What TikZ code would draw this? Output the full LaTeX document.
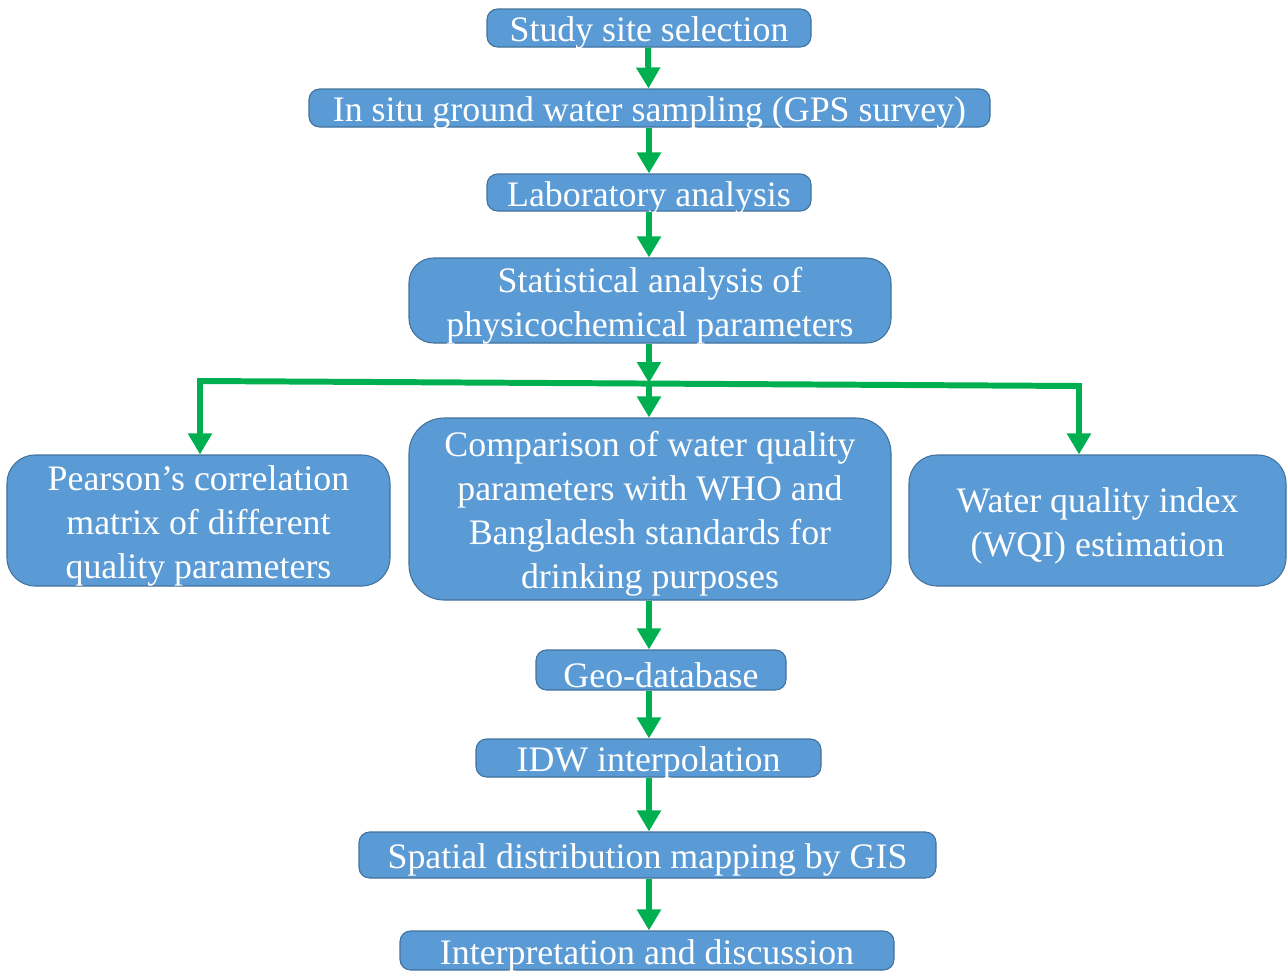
\documentclass[tikz,border=0pt]{standalone}
\usepackage{fontspec}
\setmainfont{Liberation Serif}
\usetikzlibrary{arrows.meta}
\definecolor{boxfill}{RGB}{91,155,213}
\definecolor{boxdraw}{RGB}{65,113,156}
\definecolor{arrgreen}{RGB}{0,176,80}
\tikzset{
  box/.style={draw=boxdraw, line width=0.6pt, fill=boxfill, inner sep=0pt, rounded corners=#1},
  box/.default=6pt,
  txt/.style={text=white, inner sep=0pt, align=center, font=\fontsize{20.4}{25}\selectfont},
  arr/.style={draw=arrgreen, line width=3.4pt, -{Triangle[width=0.46cm,length=0.42cm]}},
  gline/.style={draw=arrgreen, line width=3.4pt}
}
\begin{document}
\begin{tikzpicture}
\useasboundingbox (0,0) rectangle (25.74,-19.48);
\node[box, minimum width=6.48cm, minimum height=0.76cm] (b1) at (12.98,-0.56) {};
\node[box, minimum width=13.62cm, minimum height=0.76cm] (b2) at (12.99,-2.16) {};
\node[box, minimum width=6.48cm, minimum height=0.74cm] (b3) at (12.98,-3.85) {};
\node[box=14pt, minimum width=9.64cm, minimum height=1.70cm] (b4) at (13.0,-6.01) {};
\node[box=16pt, minimum width=7.66cm, minimum height=2.62cm] (b5) at (3.97,-10.41) {};
\node[box=20pt, minimum width=9.64cm, minimum height=3.64cm] (b6) at (13.0,-10.18) {};
\node[box=16pt, minimum width=7.54cm, minimum height=2.62cm] (b7) at (21.95,-10.41) {};
\node[box, minimum width=5.0cm, minimum height=0.8cm] (b8) at (13.22,-13.4) {};
\node[box, minimum width=6.9cm, minimum height=0.76cm] (b9) at (12.97,-15.16) {};
\node[box, minimum width=11.54cm, minimum height=0.92cm] (b10) at (12.95,-17.1) {};
\node[box, minimum width=9.88cm, minimum height=0.78cm] (b11) at (12.94,-19.01) {};

\node[txt] (t1) at ([yshift=-0.1cm]b1.center) {Study site selection};
\node[txt] (t2) at ([yshift=-0.1cm]b2.center) {In situ ground water sampling (GPS survey)};
\node[txt] (t3) at ([yshift=-0.1cm]b3.center) {Laboratory analysis};
\node[txt] (t4) at ([yshift=-0.1cm]b4.center) {Statistical analysis of\\physicochemical parameters};
\node[txt] (t5) at ([yshift=-0.1cm]b5.center) {Pearson’s correlation\\matrix of different\\quality parameters};
\node[txt] (t6) at ([yshift=-0.1cm]b6.center) {Comparison of water quality\\parameters with WHO and\\Bangladesh standards for\\drinking purposes};
\node[txt] (t7) at ([yshift=-0.1cm]b7.center) {Water quality index\\(WQI) estimation};
\node[txt] (t8) at ([yshift=-0.1cm]b8.center) {Geo-database};
\node[txt] (t9) at ([yshift=-0.1cm]b9.center) {IDW interpolation};
\node[txt] (t10) at ([yshift=-0.1cm]b10.center) {Spatial distribution mapping by GIS};
\node[txt] (t11) at ([yshift=-0.1cm]b11.center) {Interpretation and discussion};

\coordinate (jc) at (12.98,-7.66);
\coordinate (jl) at (4.0,-7.62);
\coordinate (jr) at (21.58,-7.72);

\draw[arr] ([xshift=-0.02cm]b1.south) -- ([xshift=-0.02cm]b2.north);
\draw[arr] (b2.south -| b1.south) -- (b3.north);
\draw[arr] (b3.south) -- (b4.north -| b3.south);
\draw[arr] (b4.south -| b3.south) -- (jc);
\draw[gline] (jl) -- (jr);
\draw[arr] ([yshift=0.06cm]jl) -- (b5.north -| jl);
\draw[arr] ([yshift=0.06cm]jr) -- (b7.north -| jr);
\draw[arr] (jc) -- (b6.north -| jc);
\draw[arr] (b6.south -| jc) -- (b8.north -| jc);
\draw[arr] (b8.south -| jc) -- (b9.north -| jc);
\draw[arr] (b9.south -| jc) -- (b10.north -| jc);
\draw[arr] (b10.south -| jc) -- (b11.north -| jc);
\end{tikzpicture}
\end{document}
